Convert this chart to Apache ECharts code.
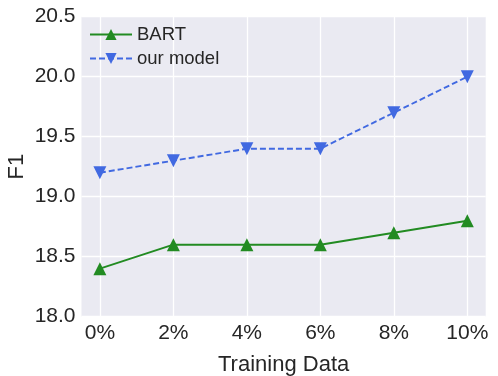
<!DOCTYPE html>
<html>
<head>
<meta charset="utf-8">
<script src="https://cdn.jsdelivr.net/npm/echarts@6/dist/echarts.min.js"></script>
<style>
  html, body { margin: 0; padding: 0; background: #fff; }
  #chart { width: 498px; height: 376px; }
</style>
</head>
<body>
<div id="chart"></div>
<script>
// data
const xValues = [0, 2, 4, 6, 8, 10];
const xLabels = ['0%', '2%', '4%', '6%', '8%', '10%'];
const bart = [18.4, 18.6, 18.6, 18.6, 18.7, 18.8];
const ourModel = [19.2, 19.3, 19.4, 19.4, 19.7, 20.0];

const font = 'Liberation Sans, Arial, sans-serif';
const pair = (ys) => ys.map((y, i) => [xValues[i], y]);

const chart = echarts.init(document.getElementById('chart'));
chart.setOption({
  animation: false,
  textStyle: { fontFamily: font },
  grid: {
    left: 81.5, right: 12.3, top: 16.7, bottom: 59.3,
    outerBoundsMode: 'none', containLabel: false,
    show: true, backgroundColor: '#EAEAF2', borderWidth: 0
  },
  legend: {
    left: 84, top: 20, orient: 'vertical', itemGap: 5,
    itemWidth: 42, itemHeight: 14,
    textStyle: { fontSize: 18.5, color: '#262626', fontFamily: font },
    data: ['BART', 'our model']
  },
  xAxis: {
    type: 'value', min: -0.5, max: 10.5,
    name: 'Training Data', nameLocation: 'middle', nameGap: 37,
    nameMoveOverlap: false,
    nameTextStyle: { fontSize: 22, color: '#262626' },
    axisLine: { show: false }, axisTick: { show: false, customValues: xValues },
    axisLabel: {
      customValues: xValues, fontSize: 21, color: '#262626', margin: 6,
      formatter: (v) => xLabels[xValues.indexOf(v)]
    },
    splitLine: { show: true, lineStyle: { color: '#fff', width: 1.3 } }
  },
  yAxis: {
    type: 'value', min: 18.0, max: 20.5, interval: 0.5,
    name: 'F1', nameLocation: 'middle', nameGap: 54,
    nameMoveOverlap: false,
    nameTextStyle: { fontSize: 22, color: '#262626' },
    axisLine: { show: false }, axisTick: { show: false },
    axisLabel: {
      fontSize: 21, color: '#262626', margin: 6,
      formatter: (v) => v.toFixed(1)
    },
    splitLine: { lineStyle: { color: '#fff', width: 1.3 } }
  },
  series: [
    {
      name: 'BART', type: 'line', data: pair(bart),
      symbol: 'triangle', symbolSize: 13,
      lineStyle: { color: '#228B22', width: 1.9 },
      itemStyle: { color: '#228B22' }
    },
    {
      name: 'our model', type: 'line', data: pair(ourModel),
      symbol: 'triangle', symbolRotate: 180, symbolSize: 13,
      lineStyle: { color: '#4169E1', width: 1.9, type: [6, 3] },
      itemStyle: { color: '#4169E1' }
    }
  ]
});
</script>
</body>
</html>
